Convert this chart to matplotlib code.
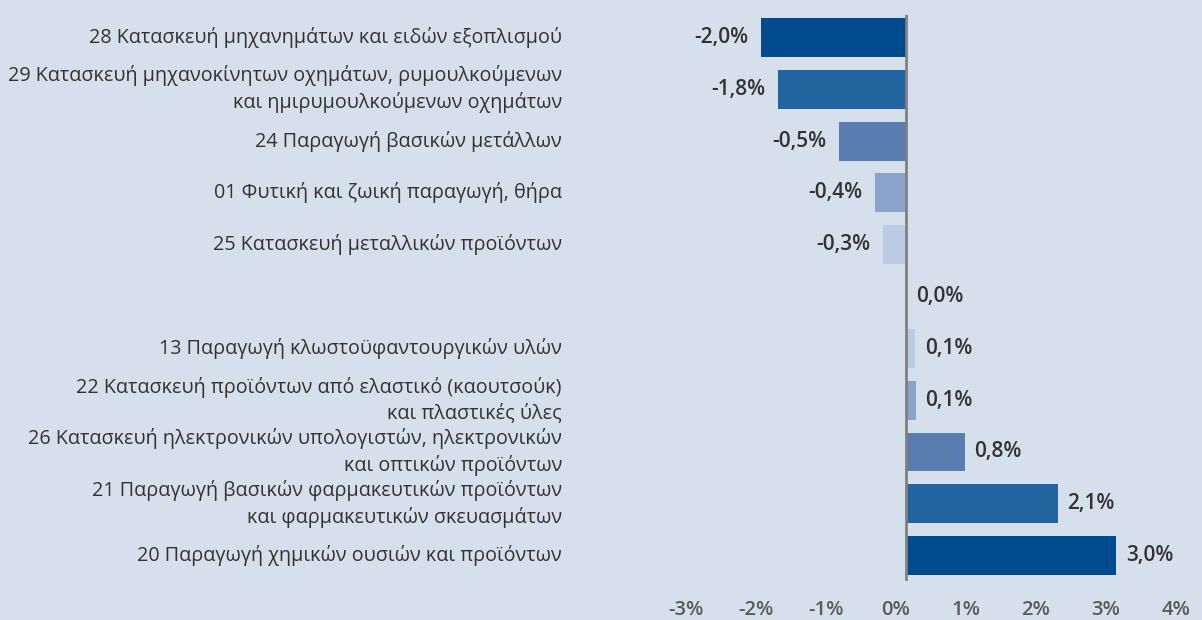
import matplotlib.pyplot as plt
from matplotlib.transforms import ScaledTranslation, blended_transform_factory

# --- data ---
categories = [
    "28 Κατασκευή μηχανημάτων και ειδών εξοπλισμού",
    "29 Κατασκευή μηχανοκίνητων οχημάτων, ρυμουλκούμενων\nκαι ημιρυμουλκούμενων οχημάτων",
    "24 Παραγωγή βασικών μετάλλων",
    "01 Φυτική και ζωική παραγωγή, θήρα",
    "25 Κατασκευή μεταλλικών προϊόντων",
    "",
    "13 Παραγωγή κλωστοϋφαντουργικών υλών",
    "22 Κατασκευή προϊόντων από ελαστικό (καουτσούκ)\nκαι πλαστικές ύλες",
    "26 Κατασκευή ηλεκτρονικών υπολογιστών, ηλεκτρονικών\nκαι οπτικών προϊόντων",
    "21 Παραγωγή βασικών φαρμακευτικών προϊόντων\nκαι φαρμακευτικών σκευασμάτων",
    "20 Παραγωγή χημικών ουσιών και προϊόντων",
]
values = [-2.07, -1.83, -0.96, -0.44, -0.33, 0.0, 0.13, 0.14, 0.84, 2.17, 3.0]
value_labels = ["-2,0%", "-1,8%", "-0,5%", "-0,4%", "-0,3%", "0,0%",
                "0,1%", "0,1%", "0,8%", "2,1%", "3,0%"]
bar_colors = ["#004b8d", "#22649f", "#5a7db0", "#8aa3ca", "#bccae3", "#bccae3",
              "#bccae3", "#8aa3ca", "#5a7db0", "#22649f", "#004b8d"]
ticks = [-3, -2, -1, 0, 1, 2, 3, 4]
tick_labels = ["-3%", "-2%", "-1%", "0%", "1%", "2%", "3%", "4%"]

BG = "#d6e0ec"
TEXT = "#333333"

plt.rcParams['font.family'] = ['Open Sans', 'DejaVu Sans']

W, H = 1202, 620
fig = plt.figure(figsize=(W / 100, H / 100), dpi=100)
fig.patch.set_facecolor(BG)
ax = fig.add_axes([696 / W, 1 - 581 / H, (1186 - 696) / W, 566 / H])
ax.set_facecolor(BG)

ypos = list(range(len(values)))
ax.barh(ypos, values, height=0.75, color=bar_colors, zorder=2)
ax.set_xlim(-3, 4)
ax.set_ylim(10.49, -0.434)

# value labels next to the bars
for y, v, lab in zip(ypos, values, value_labels):
    off = -9 if v < 0 else 7
    ax.annotate(lab, (v, y), xytext=(off, 0), textcoords="offset points",
                ha="right" if v < 0 else "left", va="center",
                fontsize=15, color=TEXT, fontweight="semibold")

# category labels, right aligned in figure coords
lab_tr = blended_transform_factory(fig.transFigure, ax.transData)
for y, cat in zip(ypos, categories):
    ax.text(562 / W, y, cat, transform=lab_tr, ha="right", va="center",
            fontsize=14.2, color=TEXT, linespacing=1.35, fontweight="medium")

ax.axvline(0, color="#808080", lw=2, zorder=3)
for s in ax.spines.values():
    s.set_visible(False)
ax.set_yticks([])
ax.set_xticks(ticks)
ax.set_xticklabels(tick_labels, fontsize=14.5, color="#5a5a5a", fontweight="semibold")
ax.tick_params(axis="x", length=0, pad=14)
offset = ScaledTranslation(-10 / 100, 0, fig.dpi_scale_trans)
for lbl in ax.get_xticklabels():
    lbl.set_transform(lbl.get_transform() + offset)

fig.savefig("out.png", dpi=100, facecolor=BG)
